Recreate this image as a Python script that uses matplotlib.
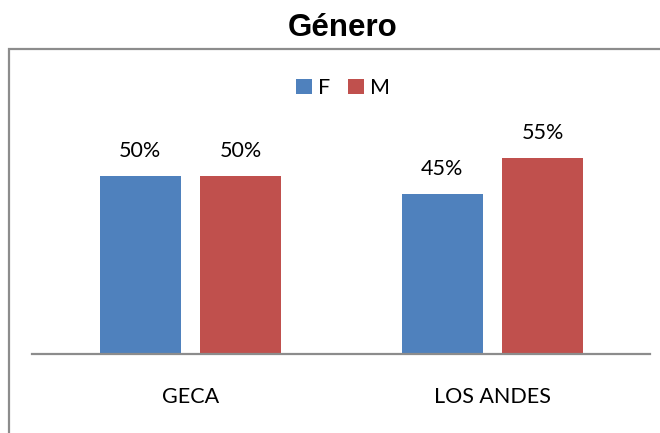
import numpy as np
import matplotlib.pyplot as plt
from matplotlib.patches import Rectangle

categories = ["GECA", "LOS ANDES"]
series = ["F", "M"]
f_vals = [50, 45]
m_vals = [50, 55]
colors = ["#4F81BD", "#C0504D"]

plt.rcParams['font.family'] = ['Lato', 'DejaVu Sans']

fig = plt.figure(figsize=(6.6, 4.33), dpi=100)
W, H = 660, 433

# outer chart frame (cut off at right and bottom like the original)
fig.patches.append(Rectangle((9 / W, -0.1), 1.2, 1 - 49 / H + 0.1,
                             transform=fig.transFigure, fill=False,
                             edgecolor="#8c8c8c", linewidth=1.6))

ax = fig.add_axes([32 / W, 1 - 354 / H, 618 / W, 294 / H])

xx = np.arange(len(categories))
width = 0.268
off = 0.166
b1 = ax.bar(xx - off, f_vals, width, color=colors[0], label=series[0])
b2 = ax.bar(xx + off, m_vals, width, color=colors[1], label=series[1])

for bars, vals in [(b1, f_vals), (b2, m_vals)]:
    for b, v in zip(bars, vals):
        ax.annotate(f"{v}%", (b.get_x() + b.get_width() / 2, v),
                    xytext=(0, 11), textcoords="offset points",
                    ha="center", va="bottom", fontsize=15.5)

ax.set_xlim(-0.525, 1.522)
ax.set_ylim(0, 82.6)
ax.set_xticks(xx)
ax.set_xticklabels(categories, fontsize=15.5)
ax.tick_params(axis="x", length=0, pad=24)
ax.set_yticks([])
for s in ["top", "right", "left"]:
    ax.spines[s].set_visible(False)
ax.spines["bottom"].set_color("#8c8c8c")
ax.spines["bottom"].set_linewidth(1.6)

fig.legend(loc="center", bbox_to_anchor=(343 / W, 1 - 88 / H), ncol=2,
           frameon=False, fontsize=15.5, handlelength=0.75, handleheight=0.75,
           handletextpad=0.3, columnspacing=0.8)

fig.text(343 / W, 1 - 28 / H, "Género", ha="center", va="center",
         fontsize=22.5, fontweight="bold", family=["Liberation Sans", "DejaVu Sans"])

fig.savefig("out.png", dpi=100)
